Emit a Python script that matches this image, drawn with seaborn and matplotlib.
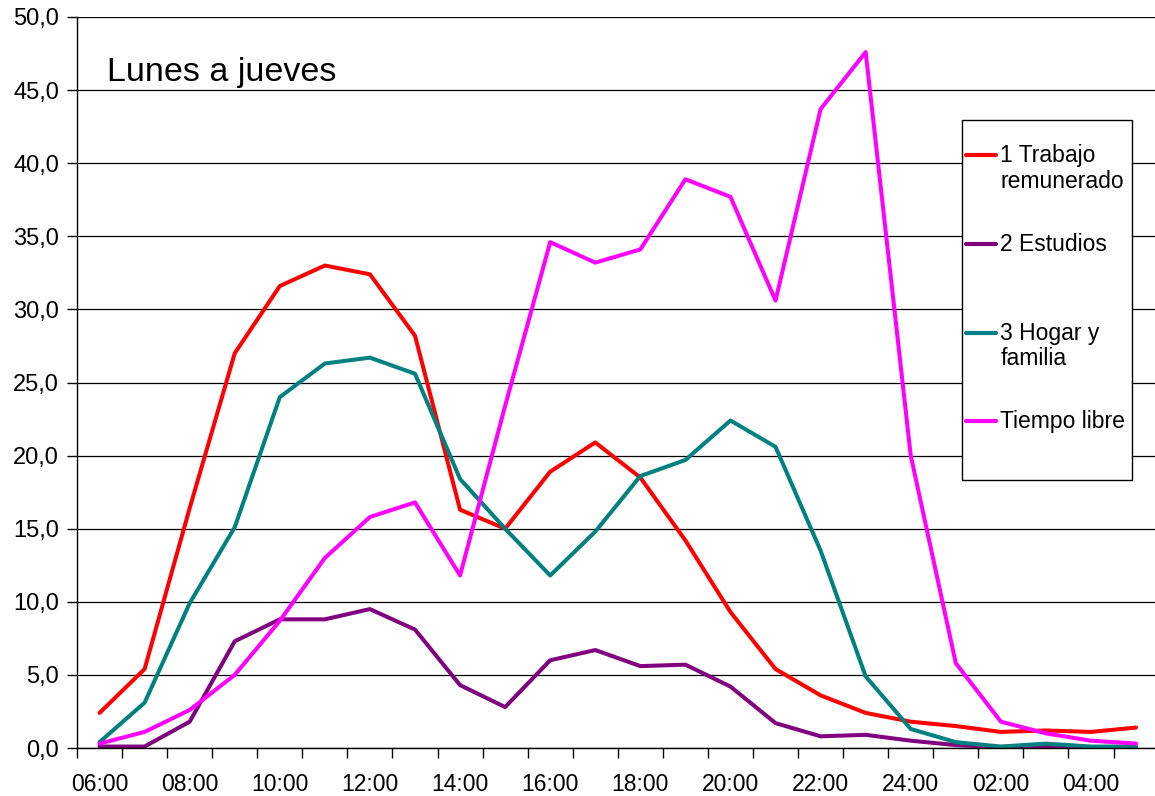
import numpy as np
import matplotlib
matplotlib.use("Agg")
import matplotlib.pyplot as plt
import seaborn as sns
import pandas as pd
from matplotlib.ticker import FixedLocator, FuncFormatter
from matplotlib.legend_handler import HandlerLine2D
from matplotlib.patches import Rectangle

horas = ['06:00', '07:00', '08:00', '09:00', '10:00', '11:00', '12:00', '13:00',
         '14:00', '15:00', '16:00', '17:00', '18:00', '19:00', '20:00', '21:00',
         '22:00', '23:00', '24:00', '01:00', '02:00', '03:00', '04:00', '05:00']

trabajo = [2.4, 5.4, 16.4, 27.0, 31.6, 33.0, 32.4, 28.2, 16.3, 15.0, 18.9, 20.9,
           18.5, 14.2, 9.3, 5.4, 3.6, 2.4, 1.8, 1.5, 1.1, 1.2, 1.1, 1.4]
estudios = [0.1, 0.1, 1.8, 7.3, 8.8, 8.8, 9.5, 8.1, 4.3, 2.8, 6.0, 6.7,
            5.6, 5.7, 4.2, 1.7, 0.8, 0.9, 0.5, 0.2, 0.05, 0.1, 0.0, 0.0]
hogar = [0.4, 3.1, 9.9, 15.1, 24.0, 26.3, 26.7, 25.6, 18.4, 15.0, 11.8, 14.8,
         18.6, 19.7, 22.4, 20.6, 13.5, 4.9, 1.3, 0.4, 0.1, 0.3, 0.1, 0.1]
libre = [0.3, 1.1, 2.6, 5.0, 8.7, 13.0, 15.8, 16.8, 11.8, 23.4, 34.6, 33.2,
         34.1, 38.9, 37.7, 30.6, 43.7, 47.6, 20.0, 5.8, 1.8, 1.0, 0.5, 0.3]

series = ['1 Trabajo\nremunerado', '2 Estudios', '3 Hogar y\nfamilia', 'Tiempo libre']
colores = ['#FF0000', '#800080', '#008080', '#FF00FF']

rows = []
for nombre, vals in zip(series, [trabajo, estudios, hogar, libre]):
    for i, v in enumerate(vals):
        rows.append([i, v, nombre])
df = pd.DataFrame(rows, columns=['pos', 'valor', 'actividad'])

sns.set_theme(style="white")
plt.rcParams['font.family'] = ['Liberation Sans', 'DejaVu Sans']
plt.rcParams['text.color'] = 'black'
plt.rcParams['xtick.color'] = 'black'
plt.rcParams['ytick.color'] = 'black'


# handle aligned with the first text line, like the original legend
class PrimeraLinea(HandlerLine2D):
    def create_artists(self, legend, orig_handle, xdescent, ydescent, width,
                       height, fontsize, trans):
        return super().create_artists(legend, orig_handle, xdescent,
                                      ydescent - 1.25 * fontsize, width, height,
                                      fontsize, trans)


fig = plt.figure(figsize=(11.55, 7.96), dpi=100)
ax = fig.add_axes([77 / 1155, 1 - 748 / 796, 1 - 77 / 1155, (748 - 17) / 796])

sns.lineplot(data=df, x='pos', y='valor', hue='actividad', hue_order=series,
             palette=dict(zip(series, colores)), linewidth=2.9, ax=ax, legend=False)

ax.set_xlim(-0.5, 23.42)
ax.set_ylim(0, 50)
ax.set_xlabel('')
ax.set_ylabel('')

ax.yaxis.set_major_locator(FixedLocator(np.arange(0, 50.1, 5)))
ax.yaxis.set_major_formatter(FuncFormatter(lambda v, p: f"{v:.1f}".replace('.', ',')))
ax.grid(axis='y', color='black', linewidth=0.9)
ax.set_axisbelow(True)

ax.set_xticks(range(0, 24, 2))
ax.set_xticklabels(horas[0::2])
ax.set_xticks(np.arange(-0.5, 23.5, 1), minor=True)
ax.tick_params(axis='x', which='major', length=0, pad=18, labelsize=16.5)
ax.tick_params(axis='x', which='minor', length=7, width=1, color='black', direction='out', bottom=True)
ax.tick_params(axis='y', which='major', length=7, width=1, color='black', direction='out', left=True, pad=6, labelsize=17)

for s in ['top', 'right']:
    ax.spines[s].set_visible(False)
for s in ['left', 'bottom']:
    ax.spines[s].set_color('black')
    ax.spines[s].set_linewidth(1)

fig.text(107 / 1155, 1 - 72 / 796, 'Lunes a jueves', fontsize=24.5, va='center', ha='left')

# legend frame
fig.add_artist(Rectangle((962 / 1155, 1 - 480 / 796), 170 / 1155, 360 / 796,
                         transform=fig.transFigure, facecolor='white',
                         edgecolor='black', linewidth=1, zorder=5))

etiquetas = [s if '\n' in s else s + '\n' for s in series]
handles = [plt.Line2D([], [], color=c, linewidth=3) for c in colores]
leg = fig.legend(handles, etiquetas, loc='upper left', bbox_to_anchor=(966 / 1155, 1 - 144 / 796),
                 fontsize=16.5, frameon=False, handlelength=1.3, handletextpad=0.2,
                 labelspacing=1.75, borderpad=0, borderaxespad=0,
                 handler_map={plt.Line2D: PrimeraLinea()})
leg.set_zorder(6)
for t in leg.get_texts():
    t.set_linespacing(1.15)

fig.savefig('out.png', dpi=100)
